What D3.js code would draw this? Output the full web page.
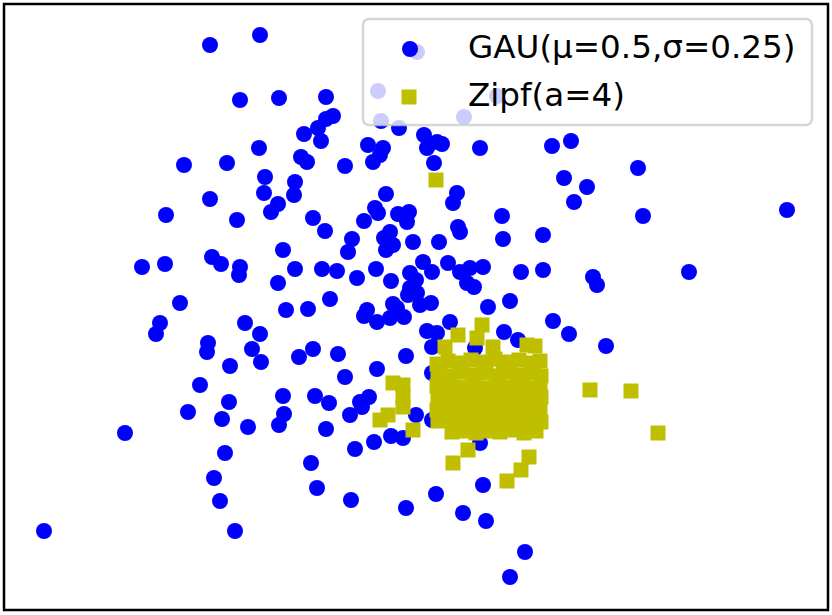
<!DOCTYPE html>
<html>
<head>
<meta charset="utf-8">
<script src="https://cdn.jsdelivr.net/npm/d3@7/dist/d3.min.js"></script>
<style>
  html, body { margin: 0; padding: 0; background: #fff; }
  svg { display: block; }
</style>
</head>
<body>
<svg id="chart" width="832" height="615"></svg>
<script>
// ---- data ----
const legendLabels = ["GAU(\u03bc=0.5,\u03c3=0.25)", "Zipf(a=4)"];

const gauX = [0.120,0.220,0.180,0.258,0.352,0.366,0.352,0.336,0.308,0.342,0.218,0.302,0.314,0.068,0.154,0.390,0.436,0.466,0.460,0.446,
0.456,0.462,0.534,0.694,0.628,0.498,0.548,0.574,0.584,0.554,0.660,0.568,0.804,0.842,0.976,0.828,0.874,0.848,1.274,0.986,
0.230,0.228,0.290,0.288,0.256,0.242,0.120,0.032,0.174,0.326,0.350,0.472,0.450,0.456,0.428,0.496,0.518,0.514,0.614,0.606,
0.704,0.706,0.616,0.620,0.786,0.404,0.396,0.480,0.468,0.486,0.472,0.526,0.578,0.266,-0.016,0.030,0.124,0.142,0.180,0.178,
0.290,0.344,0.374,0.414,0.452,0.482,0.256,0.546,0.564,0.596,0.620,0.640,0.666,0.634,0.648,0.742,0.786,0.886,0.894,1.078,
0.520,0.532,0.520,0.534,0.516,0.540,0.562,0.060,0.272,0.316,0.360,0.434,0.428,0.454,0.486,0.480,0.508,0.494,0.676,0.720,
0.600,0.554,0.574,0.708,0.736,0.806,0.838,0.912,0.020,0.012,0.190,0.220,0.116,0.114,0.204,0.222,0.160,0.298,0.326,0.376,
0.512,0.454,0.390,0.564,0.650,0.564,0.100,0.266,0.330,0.358,0.158,0.076,0.268,0.258,0.144,0.196,0.438,0.420,0.424,0.400,
0.532,0.564,0.352,0.482,0.506,0.448,0.410,0.660,-0.050,0.150,0.322,0.128,0.334,0.140,0.402,0.512,-0.212,0.170,0.666,0.572,
0.626,0.672,0.750,0.720];
const gauY = [1.010,1.030,0.900,0.904,0.906,0.868,0.862,0.844,0.832,0.818,0.804,0.786,0.776,0.770,0.774,0.768,0.810,0.804,0.790,0.776,
0.918,0.858,0.996,0.908,0.866,0.844,0.830,0.816,0.812,0.804,0.804,0.774,0.808,0.818,0.764,0.744,0.726,0.696,0.680,0.668,
0.746,0.714,0.736,0.710,0.692,0.676,0.702,0.670,0.660,0.664,0.638,0.712,0.684,0.674,0.658,0.672,0.676,0.656,0.714,0.694,
0.668,0.622,0.646,0.636,0.630,0.622,0.596,0.636,0.624,0.610,0.600,0.616,0.616,0.600,0.566,0.572,0.586,0.572,0.566,0.550,
0.562,0.562,0.558,0.544,0.562,0.538,0.534,0.576,0.556,0.574,0.556,0.564,0.566,0.534,0.526,0.556,0.560,0.546,0.530,0.556,
0.554,0.540,0.524,0.514,0.510,0.490,0.494,0.494,0.480,0.482,0.502,0.480,0.468,0.456,0.492,0.464,0.466,0.484,0.486,0.498,
0.456,0.438,0.434,0.436,0.420,0.458,0.432,0.408,0.454,0.432,0.454,0.432,0.414,0.396,0.402,0.376,0.368,0.386,0.402,0.392,
0.388,0.362,0.346,0.406,0.404,0.354,0.330,0.308,0.308,0.294,0.296,0.276,0.272,0.250,0.262,0.246,0.306,0.296,0.286,0.270,
0.270,0.260,0.242,0.228,0.224,0.216,0.202,0.214,0.234,0.194,0.174,0.144,0.124,0.098,0.100,0.084,0.038,0.038,0.130,0.112,
0.074,0.058,-0.004,-0.054];

const zipfX = [
0.574,0.596,0.620,0.642,0.668,0.690,0.714,0.738,0.762,0.780,
0.576,0.600,0.624,0.648,0.672,0.696,0.720,0.744,0.768,0.782,
0.574,0.598,0.622,0.646,0.670,0.694,0.718,0.742,0.766,0.780,
0.576,0.600,0.624,0.648,0.672,0.696,0.720,0.744,0.768,0.782,
0.574,0.598,0.622,0.646,0.670,0.694,0.718,0.742,0.766,0.780,
0.576,0.600,0.624,0.648,0.672,0.696,0.720,0.744,0.768,0.782,
0.604,0.628,0.652,0.676,0.700,0.724,0.748,0.772,
0.580,0.634,0.686,0.732,0.754,0.610,0.706,0.660,0.590,0.760,
0.572,0.486,0.506,0.506,0.506,0.476,0.460,0.526,0.880,0.962,1.016,0.636,0.606,0.758,0.742,0.714,
0.616,0.654,0.664,0.590,0.686,0.754,0.770];
const zipfY = [
0.372,0.378,0.374,0.380,0.376,0.382,0.376,0.380,0.374,0.378,
0.352,0.348,0.356,0.350,0.354,0.348,0.356,0.350,0.354,0.348,
0.328,0.332,0.326,0.330,0.324,0.332,0.326,0.330,0.324,0.328,
0.304,0.308,0.302,0.306,0.302,0.308,0.304,0.306,0.302,0.306,
0.280,0.284,0.278,0.282,0.278,0.284,0.280,0.282,0.278,0.282,
0.258,0.260,0.256,0.260,0.256,0.258,0.262,0.256,0.260,0.256,
0.236,0.238,0.234,0.238,0.236,0.240,0.234,0.238,
0.364,0.316,0.292,0.340,0.270,0.248,0.368,0.268,0.294,0.246,
0.740,0.334,0.330,0.306,0.286,0.270,0.260,0.240,0.320,0.318,0.234,0.200,0.174,0.186,0.160,0.138,
0.430,0.424,0.450,0.406,0.406,0.410,0.408];

// ---- layout ----
const W = 832, H = 615;
const svg = d3.select("#chart");
const x = d3.scaleLinear().domain([-0.3, 1.364]).range([0, W]);
const y = d3.scaleLinear().domain([-0.13, 1.1]).range([H, 0]);

const BLUE = "#0000ff", OLIVE = "#bfbf00";
const R = 8, SQ = 15;

const plot = svg.append("g");
plot.selectAll("circle.gau")
  .data(d3.zip(gauX, gauY))
  .join("circle")
  .attr("class", "gau")
  .attr("cx", d => x(d[0]))
  .attr("cy", d => y(d[1]))
  .attr("r", R)
  .attr("fill", BLUE);

plot.selectAll("rect.zipf")
  .data(d3.zip(zipfX, zipfY))
  .join("rect")
  .attr("class", "zipf")
  .attr("x", d => x(d[0]) - SQ / 2)
  .attr("y", d => y(d[1]) - SQ / 2)
  .attr("width", SQ)
  .attr("height", SQ)
  .attr("fill", OLIVE);

// frame
svg.append("rect")
  .attr("x", 4).attr("y", 4)
  .attr("width", 824).attr("height", 606)
  .attr("fill", "none")
  .attr("stroke", "#000")
  .attr("stroke-width", 2.5);

// legend
const lg = svg.append("g");
lg.append("rect")
  .attr("x", 363).attr("y", 19)
  .attr("width", 449).attr("height", 106)
  .attr("rx", 6).attr("ry", 6)
  .attr("fill", "#fff").attr("fill-opacity", 0.8)
  .attr("stroke", "#cccccc").attr("stroke-opacity", 0.8)
  .attr("stroke-width", 2.5);

lg.append("circle").attr("cx", 410).attr("cy", 49).attr("r", R).attr("fill", BLUE);
lg.append("rect").attr("x", 409 - SQ / 2).attr("y", 97 - SQ / 2)
  .attr("width", SQ).attr("height", SQ).attr("fill", OLIVE);

lg.selectAll("text")
  .data(legendLabels)
  .join("text")
  .attr("x", 468)
  .attr("y", (d, i) => 58 + i * 48)
  .attr("font-family", "DejaVu Sans, sans-serif")
  .attr("font-size", 32.6)
  .attr("fill", "#000")
  .text(d => d);
</script>
</body>
</html>
